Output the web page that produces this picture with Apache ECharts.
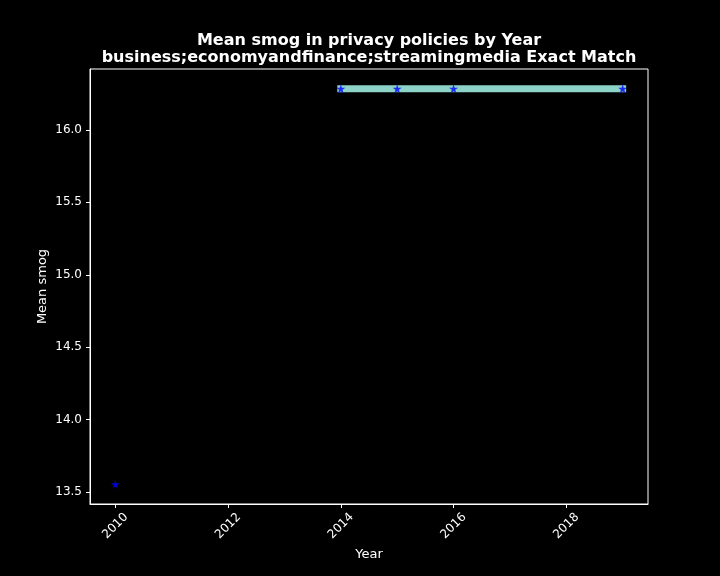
<!DOCTYPE html>
<head>
    <meta charset="utf-8">
    <title>ECharts</title>
    <style>
    html,body { height:100%; width:100%; margin:0; padding:0; background:#000; }
    </style>
</head>
<body>
<div id="main" style="width:720px;height:576px;"></div>
<script src="https://cdn.jsdelivr.net/npm/echarts@6/dist/echarts.min.js"></script>
<script type="text/javascript">
    // data
    var years = [2010, 2014, 2015, 2016, 2019];
    var meanSmog = [13.555, 16.283, 16.283, 16.283, 16.283];
    var lineBreakAfter = [2010];   // the line has a gap after these years
    var xTicks = [2010, 2012, 2014, 2016, 2018];
    var yTicks = [13.5, 14.0, 14.5, 15.0, 15.5, 16.0];

    var titleLines = ['Mean smog in privacy policies by Year',
                      'business;economyandfinance;streamingmedia Exact Match'];

    var font = 'DejaVu Sans';
    var star = 'path://M0,-1 L0.2245,-0.309 L0.951,-0.309 L0.363,0.118 L0.588,0.809 L0,0.382 L-0.588,0.809 L-0.363,0.118 L-0.951,-0.309 L-0.2245,-0.309 Z';

    // line points, with a null inserted where the line breaks
    var lineData = [];
    for (var i = 0; i < years.length; i++) {
        lineData.push([years[i], meanSmog[i]]);
        if (lineBreakAfter.indexOf(years[i]) >= 0) {
            lineData.push([years[i] + 1, '-']);
        }
    }
    var pointData = years.map(function (y, i) { return [y, meanSmog[i]]; });

    // matplotlib style 5% margins
    var xPad = (years[years.length - 1] - years[0]) * 0.05;
    var yMin = Math.min.apply(null, meanSmog), yMax = Math.max.apply(null, meanSmog);
    var yPad = (yMax - yMin) * 0.05;

    var myChart = echarts.init(document.getElementById('main'));
    var options = {
        backgroundColor: '#000000',
        animation: false,
        graphic: [
            {
                type: 'text', x: 369, y: 32,
                style: {
                    text: titleLines.join('\n'),
                    fill: '#ffffff', font: 'bold 16px "' + font + '"',
                    textAlign: 'center', textVerticalAlign: 'top', lineHeight: 17
                }
            }
        ],
        grid: {
            left: 90, right: 72, top: 69, bottom: 72,
            show: true, borderColor: '#ffffff', borderWidth: 1,
            backgroundColor: 'transparent'
        },
        xAxis: {
            type: 'value',
            min: years[0] - xPad,
            max: years[years.length - 1] + xPad,
            splitLine: { show: false },
            axisLine: { show: true, lineStyle: { color: '#ffffff', width: 1 } },
            axisTick: { show: true, length: 4, customValues: xTicks, lineStyle: { color: '#ffffff' } },
            axisLabel: {
                customValues: xTicks, rotate: 45, margin: 22,
                align: 'center', verticalAlign: 'middle',
                color: '#ffffff', fontFamily: font, fontSize: 12,
                formatter: function (v) { return String(v); }
            },
            name: 'Year', nameLocation: 'middle', nameGap: 44, nameMoveOverlap: false,
            nameTextStyle: { color: '#ffffff', fontFamily: font, fontSize: 13 }
        },
        yAxis: {
            type: 'value',
            min: yMin - yPad,
            max: yMax + yPad,
            splitLine: { show: false },
            axisLine: { show: true, lineStyle: { color: '#ffffff', width: 1 } },
            axisTick: { show: true, length: 4, customValues: yTicks, lineStyle: { color: '#ffffff' } },
            axisLabel: {
                customValues: yTicks, margin: 8,
                color: '#ffffff', fontFamily: font, fontSize: 12,
                formatter: function (v) { return v.toFixed(1); }
            },
            name: 'Mean smog', nameLocation: 'middle', nameGap: 41, nameRotate: 90, nameMoveOverlap: false,
            nameTextStyle: { color: '#ffffff', fontFamily: font, fontSize: 13 }
        },
        series: [
            {
                type: 'line',
                data: lineData,
                connectNulls: false,
                showSymbol: false,
                symbol: 'none',
                lineStyle: { color: '#8dd3c7', width: 7, cap: 'square' },
                z: 2
            },
            {
                type: 'scatter',
                data: pointData,
                symbol: star,
                symbolSize: 9,
                itemStyle: { color: '#0000ff' },
                z: 3
            }
        ]
    };
    myChart.setOption(options);
</script>
</body>
